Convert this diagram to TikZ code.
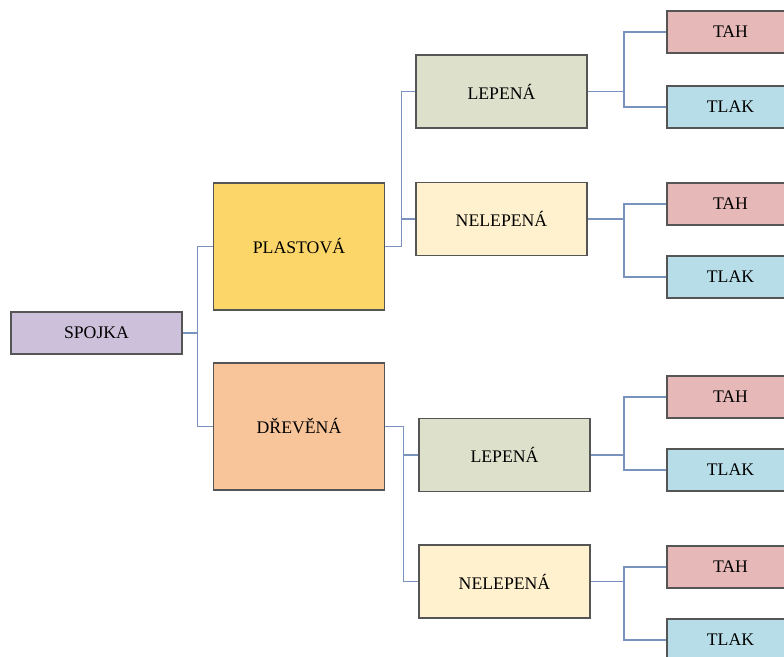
\documentclass[tikz,border=0pt]{standalone}
\usepackage{fontspec}
\setmainfont{Liberation Serif}
\usetikzlibrary{positioning}
\definecolor{linkblue}{RGB}{122, 146, 190}
\definecolor{boxline}{RGB}{85, 85, 85}
\definecolor{lavender}{RGB}{204, 192, 218}
\definecolor{gold}{RGB}{252, 214, 104}
\definecolor{peach}{RGB}{248, 196, 154}
\definecolor{sage}{RGB}{221, 225, 203}
\definecolor{cream}{RGB}{255, 241, 205}
\definecolor{rose}{RGB}{230, 184, 183}
\definecolor{sky}{RGB}{183, 222, 232}

\begin{document}
\begin{tikzpicture}[x=0.025cm, y=-0.025cm,
        box/.style={rectangle, draw=boxline, line width=0.85pt, minimum width=4.275cm, align=center, font=\fontsize{12.6}{14}\selectfont},
        small/.style={box, minimum height=1.05cm},
        leaf/.style={small, minimum width=3.175cm},
        mid/.style={box, minimum height=1.825cm},
        big/.style={box, minimum height=3.175cm},
        link/.style={linkblue, line width=0.8pt}
      ]
        \clip (0,0) rectangle (784,657);
        \fill[white] (0,0) rectangle (784,657);

        \node[small, fill=lavender] at (96.5, 333)  (spojka) {SPOJKA};
        \node[big, fill=gold]       at (299, 246.5) (plast)  {PLASTOVÁ};
        \node[big, fill=peach]      at (299, 426.5) (drev)   {DŘEVĚNÁ};

        \node[mid, fill=sage]  at (501.5, 91.5) (lepA)   {LEPENÁ};
        \node[mid, fill=cream] at (501.5, 219)  (nelepA) {NELEPENÁ};
        \node[mid, fill=sage]  at (504.5, 455)  (lepB)   {LEPENÁ};
        \node[mid, fill=cream] at (504.5, 581.5)(nelepB) {NELEPENÁ};

        % TAH / TLAK pairs, one per material box
        \foreach \k/\ya/\yb in {1/32/107, 2/204/277, 3/397/470, 4/567/640} {
          \node[leaf, fill=rose] at (730.5, \ya) (tah\k)  {TAH};
          \node[leaf, fill=sky]  at (730.5, \yb) (tlak\k) {TLAK};
        }

        \draw[link] (spojka.east) -- ++(15,0) |- (plast.west);
        \draw[link] (spojka.east) -- ++(15,0) |- (drev.west);
        \draw[link] (plast.east) -- ++(16,0) |- (lepA.west);
        \draw[link] (plast.east) -- ++(16,0) |- (nelepA.west);
        \draw[link] (drev.east) -- ++(18,0) |- (lepB.west);
        \draw[link] (drev.east) -- ++(18,0) |- (nelepB.west);

        \foreach \src/\k in {lepA/1, nelepA/2, lepB/3, nelepB/4} {
          \draw[link] (\src.east) -- (624, 0 |- \src.east) |- (tah\k.west);
          \draw[link] (\src.east) -- (624, 0 |- \src.east) |- (tlak\k.west);
        }
      \end{tikzpicture}
\end{document}
